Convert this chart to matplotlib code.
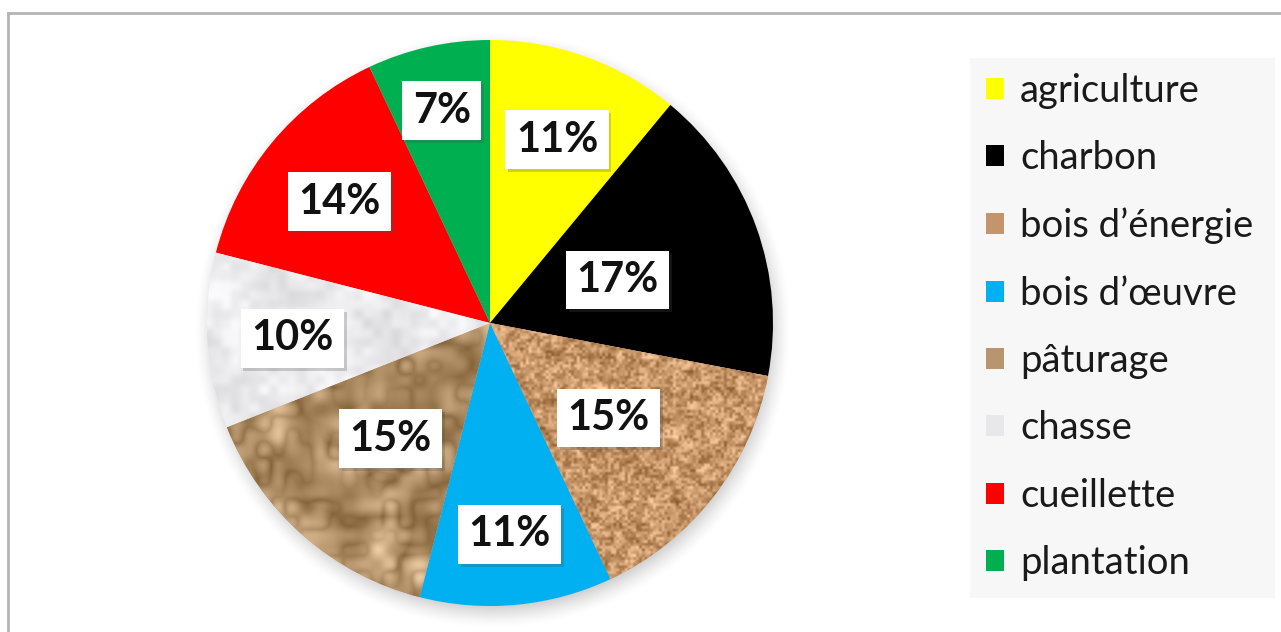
import matplotlib.pyplot as plt
import matplotlib.patheffects as pe
import numpy as np
from matplotlib.patches import Patch, Rectangle
from matplotlib.lines import Line2D

# slice data, clockwise from 12 o'clock
labels = ["agriculture", "charbon", "bois d\u2019énergie", "bois d\u2019œuvre",
          "pâturage", "chasse", "cueillette", "plantation"]
shares = [11, 17, 15, 11, 15, 10, 14, 7]
colors = ["#ffff00", "#000000", "#c4956a", "#00b0f0",
          "#b8956e", "#e8e8ea", "#ff0000", "#00b050"]
# label distance from centre, as a fraction of the radius
label_dist = [0.70, 0.48, 0.53, 0.74, 0.53, 0.70, 0.69, 0.78]

W, H = 1281, 632
cx, cy, R = 490, 309, 283

fig = plt.figure(figsize=(W / 100, H / 100), dpi=100)
ax = fig.add_axes([0, 0, 1, 1])


def value_noise(n, cells, seed):
    # smooth hash-based value noise on an n x n grid
    g = cells + 2
    gy, gx = np.mgrid[0:g, 0:g].astype(float)
    v = np.sin(gx * 12.9898 + gy * 78.233 + seed * 37.719) * 43758.5453
    v = v - np.floor(v)
    t = np.linspace(0, cells, n, endpoint=False)
    i = np.floor(t).astype(int)
    f = t - i
    f = f * f * (3 - 2 * f)
    a = v[np.ix_(i, i)]
    b = v[np.ix_(i, i + 1)]
    c = v[np.ix_(i + 1, i)]
    d = v[np.ix_(i + 1, i + 1)]
    fy = f[:, None]
    fx = f[None, :]
    return (a * (1 - fx) + b * fx) * (1 - fy) + (c * (1 - fx) + d * fx) * fy


def tint(base, amount, field):
    img = np.array(base, float)[None, None, :] / 255 + amount * (field[..., None] - 0.5)
    return np.clip(img, 0, 1)


N = 600
cork = tint((198, 150, 104), 0.5,
            0.6 * value_noise(N, 200, 1) + 0.4 * value_noise(N, 70, 2))
ridges = np.abs(value_noise(N, 16, 3) - 0.5) + 0.6 * np.abs(value_noise(N, 40, 4) - 0.5)
paper = tint((190, 156, 116), 0.45, ridges / ridges.max())
snow = tint((234, 234, 236), 0.16,
            0.5 * value_noise(N, 18, 5) + 0.5 * value_noise(N, 60, 6))
textures = {2: cork, 4: paper, 5: snow}

# soft drop shadow under the pie
sy, sx = np.mgrid[0:N, 0:N]
ext = R + 40
dist = np.hypot((sx + 0.5) / N * 2 * ext - ext - 3, (sy + 0.5) / N * 2 * ext - ext - 7)
alpha = np.clip((R + 16 - dist) / 26, 0, 1) ** 1.5 * 0.22
shadow = np.zeros((N, N, 4))
shadow[..., 3] = alpha
ax.imshow(shadow, extent=(cx - ext, cx + ext, cy - ext, cy + ext), zorder=0.5)

wedges, _ = ax.pie(shares, colors=colors, startangle=90, counterclock=False,
                   center=(cx, cy), radius=R, frame=True,
                   wedgeprops=dict(linewidth=0))
for w in wedges:
    w.set_zorder(1)

for idx, tex in textures.items():
    im = ax.imshow(tex, extent=(cx - R, cx + R, cy - R, cy + R), zorder=1.5)
    im.set_clip_path(wedges[idx])

for w, val, d in zip(wedges, shares, label_dist):
    ang = np.deg2rad((w.theta1 + w.theta2) / 2)
    x = cx + R * d * np.cos(ang)
    y = cy + R * d * np.sin(ang)
    t = ax.text(x, y - 3, f"{val}%", fontsize=30, fontweight="bold", family="Lato",
                ha="center", va="center", color="#111111", zorder=3,
                bbox=dict(boxstyle="square,pad=0.25", fc="white", ec="none"))
    t.get_bbox_patch().set_path_effects(
        [pe.SimplePatchShadow(offset=(2, -2), alpha=0.25), pe.Normal()])

# legend panel
ax.add_patch(Rectangle((970, 34), 305, 540, fc="#f7f7f7", ec="none", zorder=0.2))
handles = [Patch(fc=c, ec="none") for c in colors]
ax.legend(handles, labels, loc="upper left", bbox_to_anchor=(986, 632 - 73),
          bbox_transform=ax.transData, frameon=False, prop=dict(family="Lato", size=27.5),
          handlelength=0.47, handleheight=0.47, handletextpad=0.42,
          labelspacing=0.82, borderpad=0, borderaxespad=0, labelcolor="#1a1a1a")

# outer chart border
fig.add_artist(Line2D([8 / W, 8 / W], [0, 1 - 13 / H], color="#b4b4b4", lw=2))
fig.add_artist(Line2D([8 / W, 1], [1 - 13 / H, 1 - 13 / H], color="#b4b4b4", lw=2))

ax.set_xlim(0, W)
ax.set_ylim(0, H)
ax.set_aspect("equal")
ax.axis("off")

fig.savefig("out.png", dpi=100, facecolor="white")
